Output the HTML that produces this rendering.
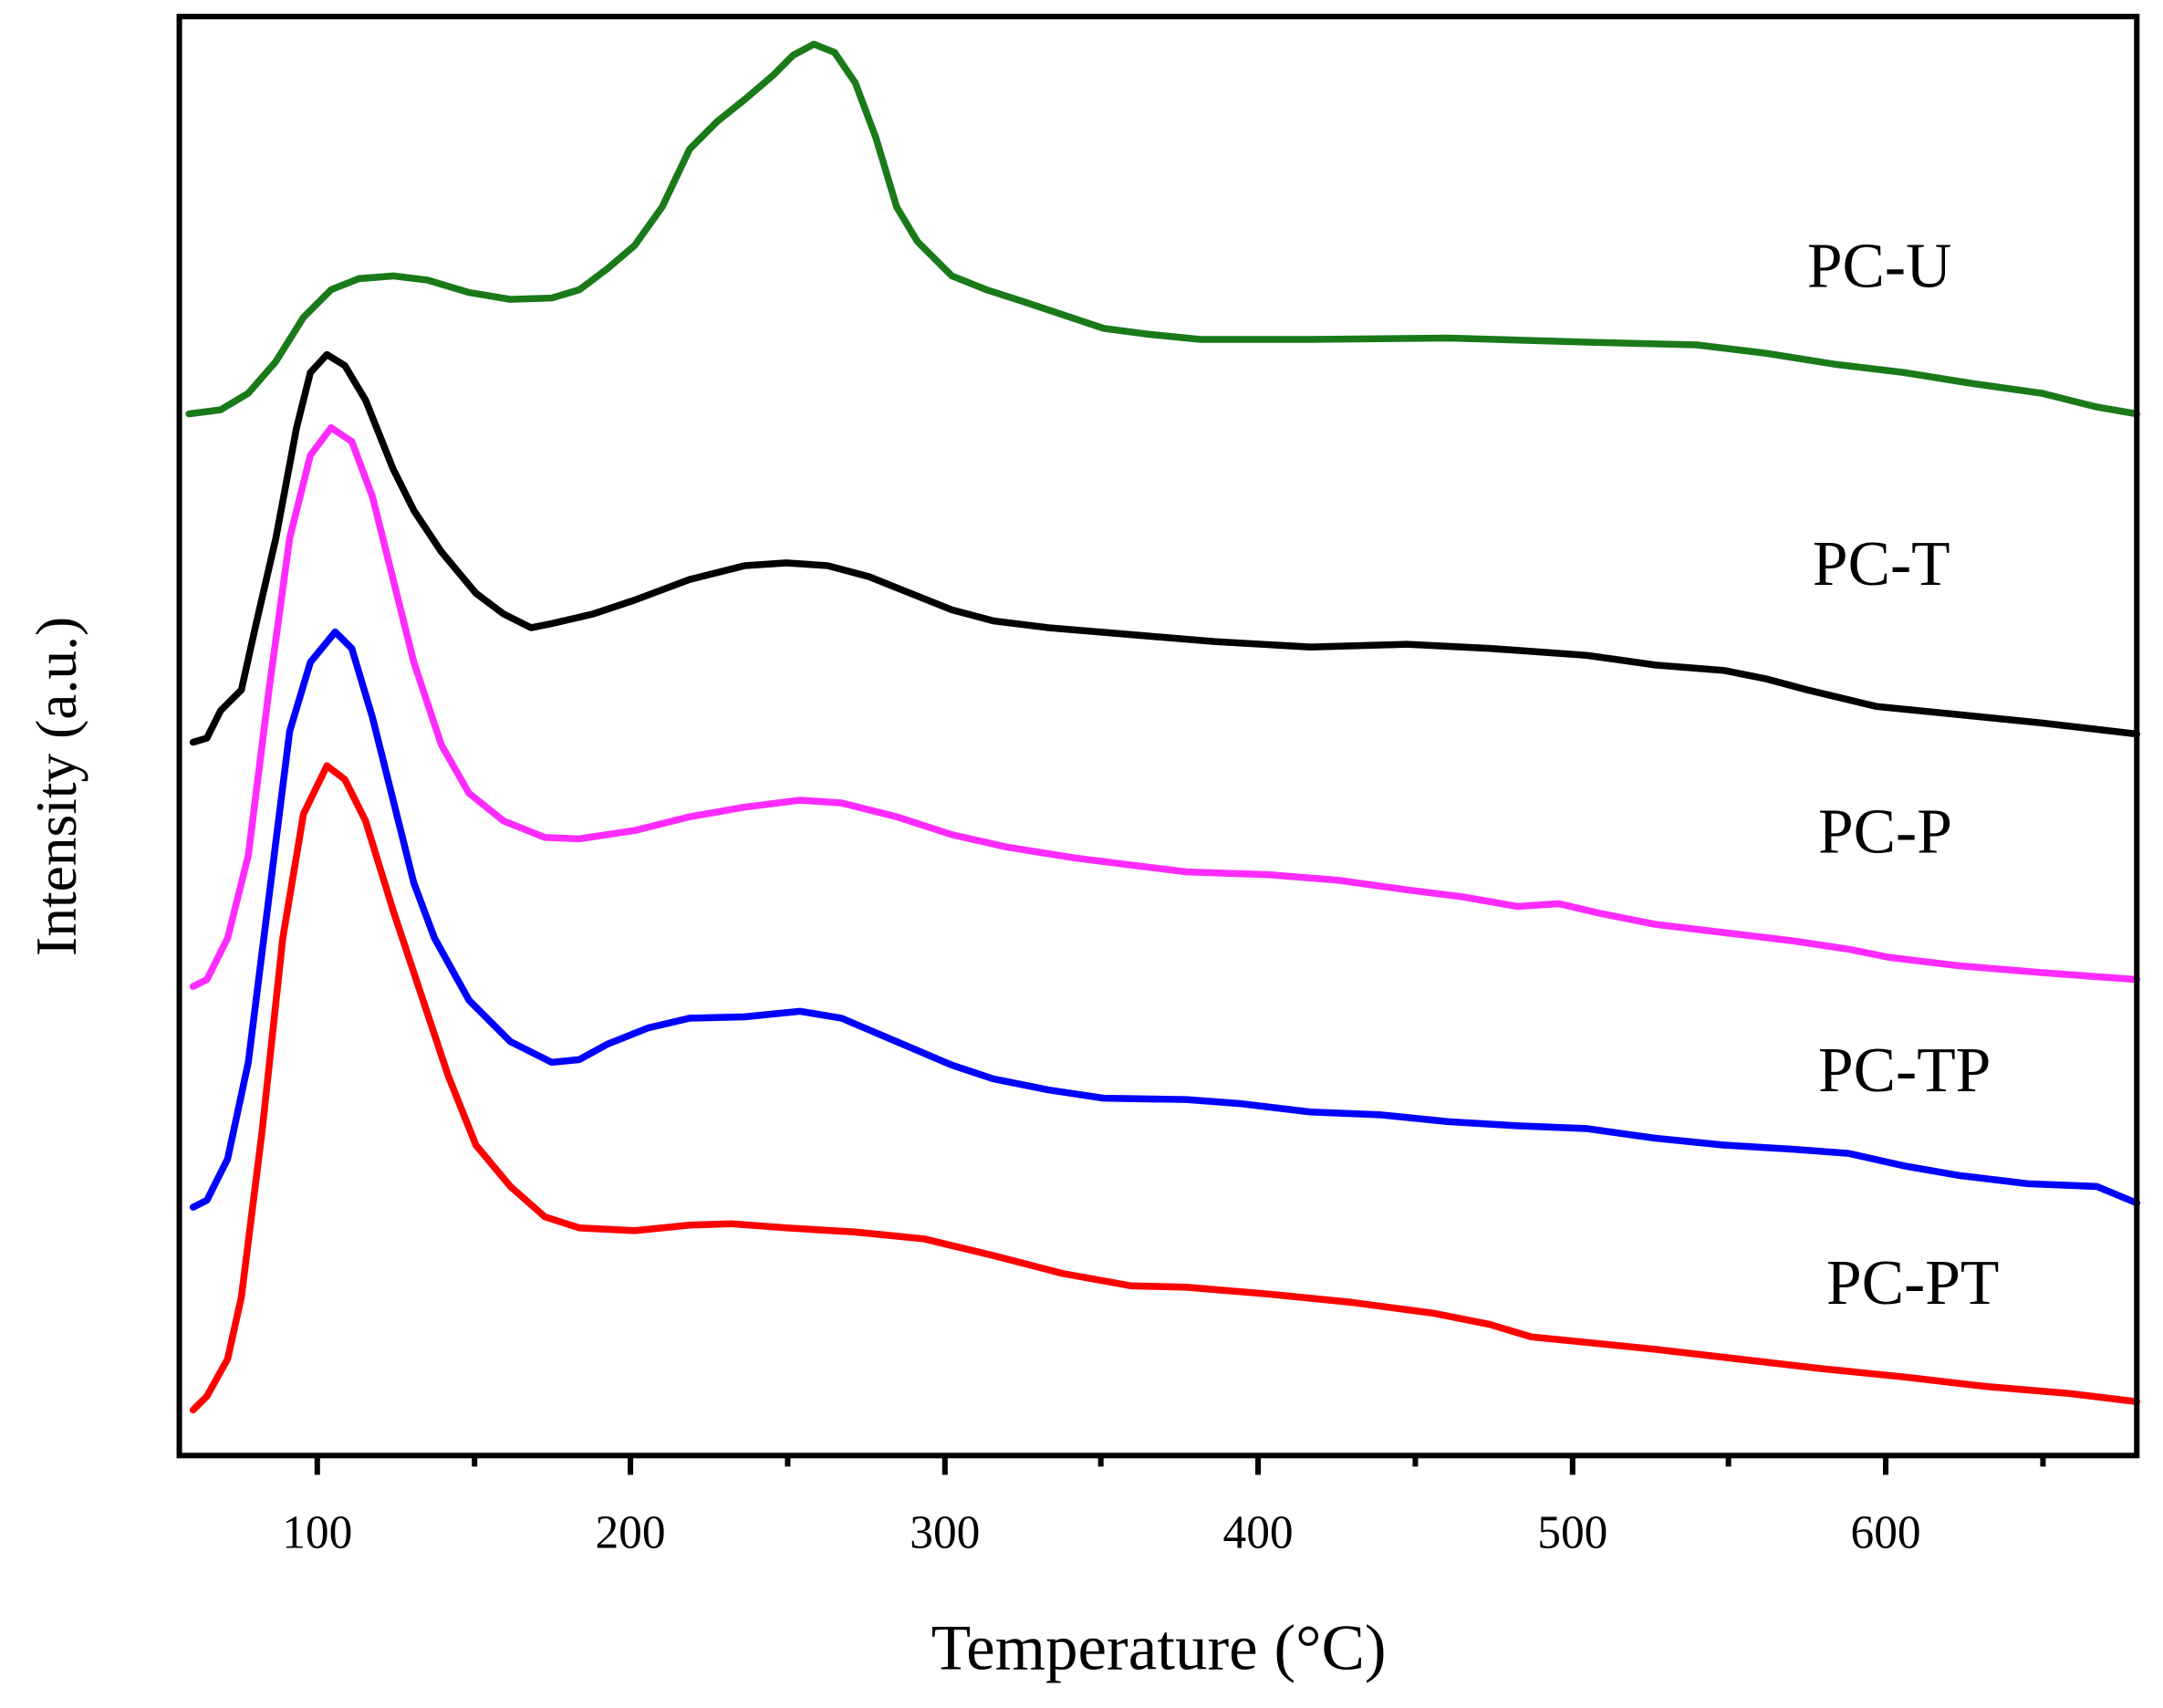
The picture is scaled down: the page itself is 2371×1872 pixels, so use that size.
<!DOCTYPE html>
<html><head><meta charset="utf-8"><style>html,body{margin:0;padding:0;background:#fff}svg{display:block}</style></head>
<body>
<svg width="2371" height="1872" viewBox="0 0 1568 1238" preserveAspectRatio="none" xmlns="http://www.w3.org/2000/svg">
<rect width="1568" height="1238" fill="#fff"/>
<g fill="none" stroke-width="5" stroke-linejoin="round" stroke-linecap="round">
<polyline stroke="#1a7a1a" points="137,300 160,297 180,285 200,262 220,230 240,210 260,202 285,200 310,203 340,212 370,217 400,216 420,210 440,195 460,178 480,150 500,108 520,88 540,72 560,55 575,40 590,32 605,38 620,60 635,100 650,150 665,175 690,200 715,210 740,218 770,228 800,238 830,242 870,246 950,246 1050,245 1150,248 1230,250 1280,256 1330,264 1380,270 1430,278 1480,285 1520,295 1549,300"/>
<polyline stroke="#000" points="140,538 150,535 160,515 175,500 185,455 200,390 215,310 225,270 237,257 250,265 265,290 285,340 300,370 320,400 345,430 365,445 385,455 400,452 430,445 460,435 500,420 540,410 570,408 600,410 630,418 660,430 690,442 720,450 760,455 820,460 880,465 950,469 1020,467 1080,470 1150,475 1200,482 1250,486 1280,492 1310,500 1360,512 1420,518 1480,524 1549,532"/>
<polyline stroke="#ff2bff" points="140,715 150,710 165,680 180,620 195,500 210,390 225,330 240,310 255,320 270,360 285,420 300,480 320,540 340,575 365,595 395,607 420,608 460,602 500,592 540,585 580,580 610,582 650,592 690,605 730,614 780,622 820,627 860,632 920,634 970,638 1020,645 1060,650 1100,657 1130,655 1160,662 1200,670 1250,676 1300,682 1340,688 1370,694 1420,700 1480,705 1549,710"/>
<polyline stroke="#0000ff" points="140,875 150,870 165,840 180,770 195,650 210,530 225,480 243,458 255,470 270,520 285,580 300,640 315,680 340,725 370,755 400,770 420,768 440,757 470,745 500,738 540,737 580,733 610,738 650,755 690,772 720,782 760,790 800,796 860,797 900,800 950,806 1000,808 1050,813 1100,816 1150,818 1200,825 1250,830 1300,833 1340,836 1380,845 1420,852 1470,858 1520,860 1549,872"/>
<polyline stroke="#ff0000" points="140,1022 150,1012 165,985 175,940 190,820 205,680 220,590 237,555 250,565 265,595 285,660 305,720 325,780 345,830 370,860 395,882 420,890 460,892 500,888 530,887 570,890 620,893 670,898 720,910 770,923 820,932 860,933 920,938 980,944 1040,952 1080,960 1110,969 1150,973 1200,978 1260,985 1320,992 1380,998 1440,1005 1500,1010 1549,1016"/>
</g>
<rect x="130" y="12" width="1419" height="1043" fill="none" stroke="#000" stroke-width="4"/>
<g stroke="#000" stroke-width="4">
<line x1="230" y1="1055" x2="230" y2="1069"/><line x1="457" y1="1055" x2="457" y2="1069"/><line x1="685" y1="1055" x2="685" y2="1069"/><line x1="912" y1="1055" x2="912" y2="1069"/><line x1="1140" y1="1055" x2="1140" y2="1069"/><line x1="1367" y1="1055" x2="1367" y2="1069"/>
<line x1="344" y1="1055" x2="344" y2="1063"/><line x1="571" y1="1055" x2="571" y2="1063"/><line x1="798" y1="1055" x2="798" y2="1063"/><line x1="1026" y1="1055" x2="1026" y2="1063"/><line x1="1253" y1="1055" x2="1253" y2="1063"/><line x1="1481" y1="1055" x2="1481" y2="1063"/>
</g>
<g font-family="Liberation Serif, serif" fill="#000" font-size="34" text-anchor="middle">
<text x="230" y="1122">100</text><text x="457" y="1122">200</text><text x="685" y="1122">300</text><text x="912" y="1122">400</text><text x="1140" y="1122">500</text><text x="1367" y="1122">600</text>
<text x="840" y="1210" font-size="47">Temperature (°C)</text>
<text transform="translate(55,570) rotate(-90)" font-size="42">Intensity (a.u.)</text>
</g>
<g font-family="Liberation Serif, serif" fill="#000" font-size="46">
<text x="1310" y="208">PC-U</text>
<text x="1314" y="424">PC-T</text>
<text x="1318" y="618">PC-P</text>
<text x="1318" y="791">PC-TP</text>
<text x="1324" y="945">PC-PT</text>
</g>
</svg>
</body></html>
